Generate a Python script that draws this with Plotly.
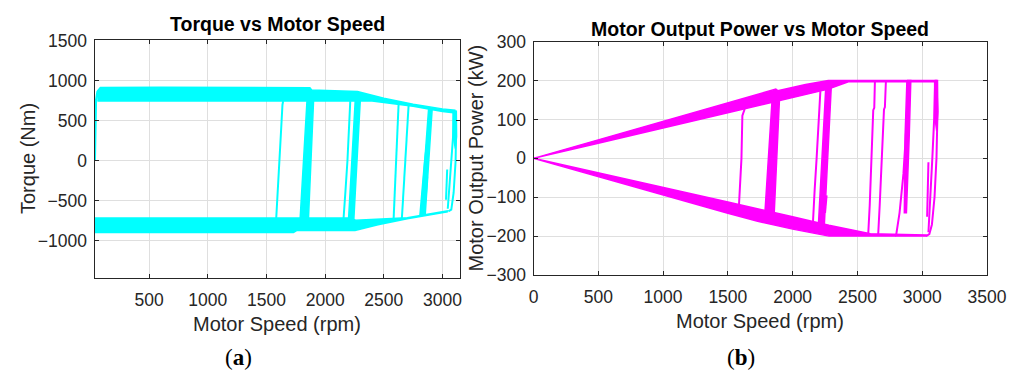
import plotly.graph_objects as go

# ---------------- (a) Torque vs Motor Speed ----------------
torque_motoring_top_speed = [60, 85, 600, 1200, 1870, 1885, 2275, 2500, 2750, 3000, 3105]
torque_motoring_top = [870, 915, 918, 915, 912, 885, 866, 780, 705, 648, 632]
torque_motoring_bottom_speed = [60, 2400, 2750, 3000, 3105]
torque_motoring_bottom = [745, 745, 680, 615, 598]

torque_regen_top_speed = [34, 2230, 2260, 2700, 3040]
torque_regen_top = [-716, -716, -745, -712, -628]
torque_regen_bottom_speed = [34, 1730, 1760, 2254, 2450, 2700, 3040]
torque_regen_bottom = [-896, -896, -871, -871, -800, -725, -640]

torque_startup_speed = [36, 40, 45, 60, 90]
torque_startup = [0, 400, 725, 860, 910]

torque_transition_speeds = [
    [1642, 1636, 1625, 1611, 1597, 1583],
    [2214, 2205, 2190, 2172, 2157],
    [2626, 2618, 2605, 2592, 2583],
    [2711, 2700, 2685, 2668, 2654],
    [2890, 2875, 2850, 2825, 2810],
    [3105, 3115, 3112, 3095, 3075, 3050],
    [3095, 3090, 3075, 3060, 3045],
    [3040, 3034, 3030],
    [2870, 2862, 2858],
    [2235, 2228, 2226],
]
torque_transition_values = [
    [745, 700, 400, 0, -400, -716],
    [745, 400, 0, -400, -716],
    [715, 400, 0, -400, -745],
    [690, 400, 0, -400, -720],
    [655, 300, 0, -400, -680],
    [620, 300, 0, -400, -610, -632],
    [620, 300, 0, -300, -600],
    [-110, -300, -487],
    [-200, -350, -446],
    [-250, -420, -525],
]
torque_cluster_speeds = [
    [1845, 1901, 1858, 1787],
    [2256, 2299, 2245, 2200],
    [2882, 2912, 2853, 2815],
    [3092, 3118, 3120, 3110, 3092],
]
torque_cluster_values = [
    [745, 745, -716, -716],
    [745, 745, -716, -716],
    [655, 645, -672, -685],
    [625, 620, 300, 150, 300],
]

# ---------------- (b) Motor Output Power vs Motor Speed ----------------
power_motoring_top_speed = [0, 500, 1000, 1500, 1870, 1885, 2100, 2275, 3110]
power_motoring_top = [0, 48, 96, 143, 178, 174, 190, 200, 200]
power_motoring_bottom_speed = [0, 500, 1000, 1500, 2000, 2275, 2430, 3110]
power_motoring_bottom = [0, 39, 78, 117, 156, 178, 197, 197]

power_regen_top_speed = [0, 500, 1000, 1500, 2000, 2280, 2600, 3030]
power_regen_top = [0, -37, -75, -112, -150, -172, -194, -197]
power_regen_bottom_speed = [0, 500, 1000, 1500, 1730, 2000, 2280, 3030]
power_regen_bottom = [0, -47, -94, -141, -162, -182, -200, -200]

power_transition_speeds = [
    [1630, 1622, 1612, 1605, 1596, 1586],
    [2214, 2200, 2185, 2170, 2157],
    [2635, 2630, 2622, 2610, 2595, 2583],
    [2720, 2712, 2705, 2690, 2672, 2660],
    [2900, 2880, 2855, 2825, 2800, 2790],
    [3110, 3118, 3110, 3095, 3075, 3055, 3030],
    [3100, 3092, 3078, 3062, 3048],
    [3048, 3042, 3038],
    [2262, 2255, 2250],
]
power_transition_values = [
    [127, 118, 110, 0, -60, -119],
    [173, 80, 0, -80, -163],
    [200, 130, 124, 0, -120, -197],
    [200, 132, 126, 0, -120, -198],
    [200, 80, -40, -140, -195, -200],
    [200, 120, 0, -100, -170, -195, -200],
    [200, 100, 0, -100, -190],
    [-10, -80, -150],
    [-95, -120, -140],
]
power_cluster_speeds = [
    [1845, 1901, 1858, 1787],
    [2256, 2299, 2245, 2200],
    [2882, 2912, 2900, 2878, 2862, 2868],
    [3096, 3118, 3120, 3112, 3096],
]
power_cluster_values = [
    [170, 172, -140, -135],
    [185, 190, -168, -165],
    [200, 200, 60, -140, -140, 60],
    [200, 200, 120, 70, 110],
]

# axis ticks
torque_speed_ticks = [500, 1000, 1500, 2000, 2500, 3000]
torque_ticks = [-1000, -500, 0, 500, 1000, 1500]
power_speed_ticks = [0, 500, 1000, 1500, 2000, 2500, 3000, 3500]
power_ticks = [-300, -200, -100, 0, 100, 200, 300]

CYAN = "#00FFFF"
MAGENTA = "#FF00FF"
AXC = "#262626"
GRID = "#dfdfdf"
FONT = "Liberation Sans, Arial, sans-serif"

fig = go.Figure()


def band(xa, ya, top_x, top_y, bot_x, bot_y, color):
    fig.add_trace(go.Scatter(
        x=list(top_x) + list(reversed(bot_x)),
        y=list(top_y) + list(reversed(bot_y)),
        xaxis=xa, yaxis=ya, mode="lines", fill="toself",
        fillcolor=color, line=dict(color=color, width=1.5),
        hoverinfo="skip", showlegend=False))


def poly(xa, ya, xs, ys, color):
    fig.add_trace(go.Scatter(
        x=list(xs) + [xs[0]], y=list(ys) + [ys[0]],
        xaxis=xa, yaxis=ya, mode="lines", fill="toself",
        fillcolor=color, line=dict(color=color, width=1.5),
        hoverinfo="skip", showlegend=False))


def line(xa, ya, xs, ys, color, w=2):
    fig.add_trace(go.Scatter(
        x=xs, y=ys, xaxis=xa, yaxis=ya, mode="lines",
        line=dict(color=color, width=w), hoverinfo="skip", showlegend=False))


# (a)
band("x", "y", torque_motoring_top_speed, torque_motoring_top,
     torque_motoring_bottom_speed, torque_motoring_bottom, CYAN)
band("x", "y", torque_regen_top_speed, torque_regen_top,
     torque_regen_bottom_speed, torque_regen_bottom, CYAN)
line("x", "y", torque_startup_speed, torque_startup, CYAN, 2.5)
for xs, ys in zip(torque_cluster_speeds, torque_cluster_values):
    poly("x", "y", xs, ys, CYAN)
for xs, ys in zip(torque_transition_speeds, torque_transition_values):
    line("x", "y", xs, ys, CYAN, 2)

# (b)
band("x2", "y2", power_motoring_top_speed, power_motoring_top,
     power_motoring_bottom_speed, power_motoring_bottom, MAGENTA)
band("x2", "y2", power_regen_top_speed, power_regen_top,
     power_regen_bottom_speed, power_regen_bottom, MAGENTA)
for xs, ys in zip(power_cluster_speeds, power_cluster_values):
    poly("x2", "y2", xs, ys, MAGENTA)
for xs, ys in zip(power_transition_speeds, power_transition_values):
    line("x2", "y2", xs, ys, MAGENTA, 2)

W, H = 1027, 372


def px_x(p):
    return p / W


def px_y(p):
    return 1 - p / H


axis_common = dict(
    showline=True, linecolor=AXC, linewidth=1, mirror="ticks",
    ticks="inside", ticklen=4, tickcolor=AXC, tickwidth=1,
    showgrid=True, gridcolor=GRID, gridwidth=1, zeroline=False,
    automargin=False,
    tickfont=dict(family=FONT, size=17.5, color=AXC),
)

fig.update_layout(
    width=W, height=H,
    margin=dict(l=0, r=0, t=0, b=0, autoexpand=False),
    paper_bgcolor="white", plot_bgcolor="white",
    showlegend=False,
    xaxis=dict(domain=[px_x(94.5), px_x(459.5)], range=[34, 3145],
               tickvals=torque_speed_ticks, anchor="y",
               ticklabelstandoff=6, **axis_common),
    yaxis=dict(domain=[px_y(278), px_y(40)], range=[-1466, 1509],
               tickvals=torque_ticks, anchor="x",
               ticklabelstandoff=3, **axis_common),
    xaxis2=dict(domain=[px_x(533.5), px_x(987)], range=[0, 3500],
                tickvals=power_speed_ticks, anchor="y2",
                ticklabelstandoff=6, **axis_common),
    yaxis2=dict(domain=[px_y(275), px_y(41.7)], range=[-300, 300],
                tickvals=power_ticks, anchor="x2",
                ticklabelstandoff=3, **axis_common),
)


def ann(text, x, y, size, color="#000000", family=FONT, angle=0):
    fig.add_annotation(
        text=text, x=px_x(x), y=px_y(y), xref="paper", yref="paper",
        xanchor="center", yanchor="middle", showarrow=False,
        textangle=angle, font=dict(family=family, size=size, color=color))


ann("<b>Torque vs Motor Speed</b>", 277, 24, 19.5)
ann("<b>Motor Output Power vs Motor Speed</b>", 760, 29, 19.5)
ann("Motor Speed (rpm)", 277, 324, 20, AXC)
ann("Motor Speed (rpm)", 760, 321, 20, AXC)
ann("Torque (Nm)", 28, 159, 20, AXC, angle=-90)
ann("Motor Output Power (kW)", 476, 158.5, 20, AXC, angle=-90)
ann("(<b>a</b>)", 238, 357, 23, "#000000", "Liberation Serif, Times New Roman, serif")
ann("(<b>b</b>)", 741, 357, 23, "#000000", "Liberation Serif, Times New Roman, serif")

fig.write_html(
    "out.html",
    config={"displayModeBar": False},
    post_script="document.body.style.margin='0';document.body.style.padding='0';",
)
